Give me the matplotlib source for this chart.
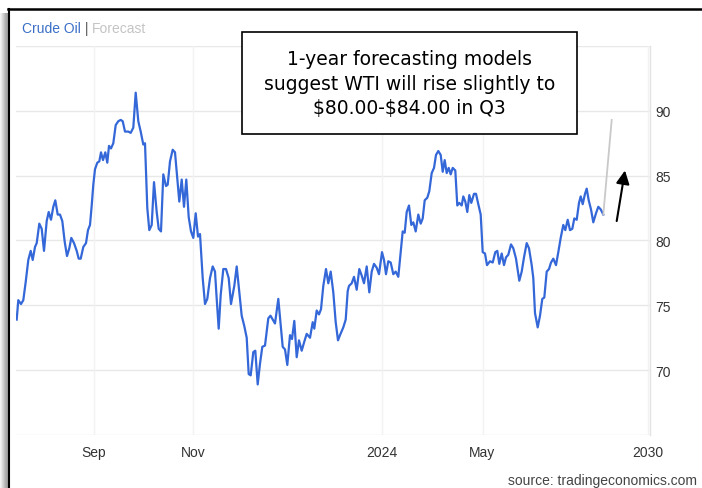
import numpy as np
import matplotlib
matplotlib.use("Agg")
import matplotlib.pyplot as plt
from matplotlib.patches import Rectangle

# --- DATA ---
# t is a plain time index along the x axis, price is WTI in USD
t = [0.7, 2.3, 5.0, 7.3, 9.7, 12.3, 14.7, 16.7, 19.0, 20.7, 23.3, 25.7, 28.0, 30.7, 32.7,
     35.0, 37.3, 39.3, 41.7, 44.0, 46.3, 48.7, 51.0, 53.3, 55.3, 58.0, 60.7, 62.7, 64.7,
     67.3, 70.0, 72.0, 74.0, 75.7, 77.3, 79.0, 81.3, 83.3, 85.0, 87.0, 89.3, 91.3, 93.0,
     95.0, 97.3, 99.7, 102.3, 104.7, 106.7, 109.0, 112.3, 114.7, 117.3, 119.7, 122.3,
     124.7, 127.3, 129.0, 131.3, 133.3, 135.7, 138.0, 140.7, 142.7, 145.0, 147.3, 150.0,
     151.7, 154.0, 156.7, 159.0, 161.3, 163.3, 165.7, 168.0, 170.3, 172.7, 175.0, 177.3,
     179.7, 182.0, 184.0, 186.7, 189.0, 191.3, 194.0, 196.7, 199.0, 200.7, 202.7, 204.7,
     207.3, 210.0, 212.7, 215.0, 218.3, 220.7, 223.3, 225.7, 228.3, 230.7, 232.7, 234.7,
     237.3, 239.3, 241.7, 244.0, 246.3, 249.0, 252.3, 254.5, 259.0, 262.3, 266.7, 269.0,
     271.3, 274.0, 276.0, 278.3, 280.7, 283.0, 285.7, 288.3, 290.7, 294.0, 296.7, 298.3,
     300.7, 303.0, 305.0, 307.3, 310.0, 312.3, 314.7, 317.3, 319.7, 322.0, 324.0, 327.3,
     329.7, 331.7, 333.0, 335.7, 338.0, 340.7, 343.3, 345.7, 348.0, 350.7, 353.3, 355.7,
     358.0, 360.7, 363.0, 366.0, 368.0, 370.0, 372.3, 374.7, 377.3, 379.7, 382.3, 384.7,
     386.7, 388.7, 390.7, 393.0, 395.3, 397.3, 399.7, 402.3, 404.7, 406.7, 408.7, 411.3,
     413.3, 415.7, 418.0, 420.0, 422.3, 424.7, 426.7, 428.7, 430.7, 432.7, 434.7, 436.7,
     439.3, 441.3, 443.3, 445.7, 447.3, 449.3, 451.3, 453.3, 455.3, 458.0, 460.0, 462.0,
     464.7, 466.7, 469.0, 471.0, 474.0, 476.7, 479.3, 481.3, 483.3, 485.7, 488.0, 490.0,
     492.3, 495.0, 497.3, 500.0, 503.3, 505.7, 508.0, 510.7, 513.0, 515.7, 517.3, 519.0,
     521.7, 524.0, 526.3, 528.3, 530.7, 533.0, 535.0, 537.3, 540.0, 542.3, 544.7, 547.3,
     549.3, 551.7, 554.0, 556.3, 558.3, 560.7, 563.0, 564.7, 566.7, 569.0, 570.7, 572.7,
     575.0, 577.3, 580.0, 582.3, 584.7, 587.3]
price = [73.9, 75.4, 75.1, 75.4, 76.8, 78.5, 79.2, 78.5, 79.5, 79.8, 81.3, 80.9, 79.2, 81.5,
         82.2, 81.6, 82.6, 83.1, 82.0, 82.0, 81.5, 79.9, 78.8, 79.4, 80.2, 79.8, 79.2, 78.6,
         78.6, 79.5, 79.8, 80.8, 81.2, 82.7, 84.3, 85.5, 86.0, 86.1, 86.8, 86.2, 86.8, 86.0,
         87.3, 87.1, 87.5, 88.9, 89.2, 89.3, 89.2, 88.4, 88.4, 88.3, 88.7, 91.4, 89.2, 88.4,
         87.4, 87.5, 82.5, 80.8, 81.2, 84.5, 82.2, 80.9, 80.7, 85.1, 84.2, 84.3, 86.1, 87.0,
         86.8, 84.8, 83.0, 84.7, 82.6, 84.7, 81.8, 80.7, 80.2, 82.1, 80.3, 80.5, 77.1, 75.1,
         75.5, 77.1, 78.0, 77.6, 75.5, 73.2, 75.8, 77.8, 77.8, 77.1, 75.1, 76.5, 78.0, 76.0,
         74.2, 73.4, 72.5, 69.7, 69.6, 71.4, 71.5, 68.9, 70.5, 71.8, 71.9, 74.0, 74.2, 73.6,
         75.5, 71.8, 71.6, 70.4, 72.7, 72.4, 73.8, 71.0, 72.3, 71.5, 72.2, 72.8, 72.5, 73.7,
         73.2, 74.6, 74.3, 74.7, 76.5, 77.8, 76.7, 77.6, 76.0, 73.7, 72.3, 72.7, 73.3, 73.9,
         76.1, 76.5, 76.7, 77.2, 76.2, 77.8, 77.3, 76.7, 78.0, 76.0, 77.6, 78.2, 77.9, 77.4,
         79.1, 78.5, 77.4, 78.4, 78.3, 77.4, 77.6, 77.2, 79.1, 80.7, 80.6, 82.2, 82.7, 81.2,
         81.4, 80.7, 82.0, 81.3, 81.7, 83.1, 83.3, 83.8, 85.2, 85.6, 86.6, 86.9, 86.6, 85.3,
         86.2, 85.2, 85.6, 85.1, 85.6, 85.4, 82.7, 82.9, 82.7, 83.4, 83.0, 82.2, 83.5, 82.9,
         83.6, 83.6, 82.9, 82.0, 79.1, 79.0, 78.1, 78.4, 78.3, 79.1, 79.2, 78.2, 79.0, 78.1,
         78.7, 78.9, 79.7, 79.4, 78.6, 76.9, 77.6, 78.7, 79.8, 79.4, 78.1, 77.1, 74.4, 73.3,
         74.2, 75.5, 75.6, 77.6, 77.8, 78.3, 78.6, 78.1, 79.1, 80.2, 81.2, 80.8, 81.6, 80.8,
         80.9, 81.7, 81.6, 82.9, 83.4, 82.8, 83.6, 84.0, 83.1, 82.4, 81.4, 82.1, 82.6, 82.4,
         82.0]

# forecast segment (last actual close -> model target)
forecast_t = [587.3, 595.7]
forecast_price = [82.0, 89.3]

tick_pos = [77.5, 177.0, 365.5, 466.5, 631.7]
tick_labels = ["Sep", "Nov", "2024", "May", "2030"]
y_ticks = [70, 75, 80, 85, 90]

note = "1-year forecasting models\nsuggest WTI will rise slightly to\n\\$80.00-\\$84.00 in Q3"
arrow_tail = (600.7, 81.5)
arrow_tip = (609.0, 85.4)

# --- FIGURE ---
W, H = 702, 489
fig = plt.figure(figsize=(W / 100, H / 100), dpi=100)
fig.patch.set_facecolor("white")

ax = fig.add_axes([16 / W, 1 - 436 / H, (650 - 16) / W, (436 - 47) / H])
ax.set_xlim(0, 634)
ax.set_ylim(65, 95)

ax.plot(t, price, color="#3467d8", lw=1.6, solid_joinstyle="round", zorder=3)
ax.plot(forecast_t, forecast_price, color="#c9c9c9", lw=1.3, zorder=3)

# grid
ax.set_yticks(y_ticks)
ax.set_xticks(tick_pos)
ax.set_xticklabels(tick_labels)
ax.yaxis.tick_right()
for yv in [65, 70, 75, 80, 85, 90, 95]:
    ax.axhline(yv, color="#e8e8e8", lw=1.0, zorder=1)
for xv in tick_pos:
    ax.axvline(xv, color="#f2f2f2", lw=1.0, zorder=1)
ax.tick_params(length=0, labelsize=10, labelcolor="#333333")
ax.tick_params(axis="x", pad=7)
ax.tick_params(axis="y", pad=4)
for lab in ax.get_xticklabels() + ax.get_yticklabels():
    lab.set_family("Liberation Sans")
for side in ["top", "left", "bottom"]:
    ax.spines[side].set_visible(False)
ax.spines["right"].set_color("#e3e3e3")
ax.spines["right"].set_linewidth(1.0)

# arrow pointing up next to the forecast
ax.annotate("", xy=arrow_tip, xytext=arrow_tail,
            arrowprops=dict(arrowstyle="-|>", color="black", lw=1.5,
                            mutation_scale=20, shrinkA=0, shrinkB=0), zorder=5)

# title "Crude Oil | Forecast"
t1 = fig.text(22 / W, 1 - 29 / H, "Crude Oil", color="#3a6fc6", fontsize=10,
              family="Liberation Sans", va="center", ha="left")
t2 = ax.annotate(" | ", xy=(1, 0), xycoords=t1, va="bottom", ha="left",
                 color="#555555", fontsize=10, family="Liberation Sans")
ax.annotate("Forecast", xy=(1, 0), xycoords=t2, va="bottom", ha="left",
            color="#c4c4c4", fontsize=10, family="Liberation Sans")

# note box
fig.add_artist(Rectangle((242 / W, 1 - 135 / H), (577 - 242) / W, (135 - 33) / H,
                         transform=fig.transFigure, facecolor="white",
                         edgecolor="black", lw=1.2, zorder=10))
fig.text(409.5 / W, 1 - 84 / H, note, ha="center", va="center", fontsize=13.5,
         family="DejaVu Sans", linespacing=1.35, color="black", zorder=11)

# source
fig.text(697 / W, 1 - 481 / H, "source: tradingeconomics.com", ha="right",
         va="center", fontsize=10, color="#444444", family="Liberation Sans")

# outer frame with the grey shadow on the left
shades = ["#f2f2f2", "#e6e6e6", "#d9d9d9", "#cccccc", "#bdbdbd", "#b0b0b0", "#a8a8a8", "#9e9e9e"]
for i, c in enumerate(shades):
    fig.add_artist(Rectangle((i / W, 0), 1 / W, 1 - 14 / H, transform=fig.transFigure,
                             facecolor=c, edgecolor="none", zorder=12))
fig.add_artist(plt.Line2D([8.5 / W, 8.5 / W], [0, 1 - 10 / H], transform=fig.transFigure,
                          color="black", lw=1.5, zorder=13))
fig.add_artist(plt.Line2D([8 / W, 1], [1 - 10 / H, 1 - 10 / H], transform=fig.transFigure,
                          color="black", lw=1.8, zorder=13))

fig.savefig("out.png", dpi=100)
